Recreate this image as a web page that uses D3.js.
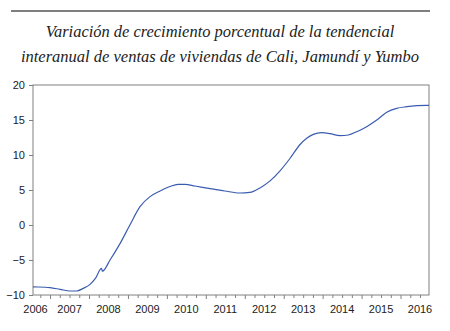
<!DOCTYPE html>
<html>
<head>
<meta charset="utf-8">
<script src="https://cdn.jsdelivr.net/npm/d3@7"></script>
<style>
  html, body { margin: 0; padding: 0; background: #fff; }
  svg { display: block; }
</style>
</head>
<body>
<svg id="chart" width="450" height="331"></svg>
<script>
// ---- data (decimal year, percent) ----
const titleLines = [
  "Variación de crecimiento porcentual de la tendencial",
  "interanual de ventas de viviendas de Cali, Jamundí y Yumbo"
];
const years = [2006.562, 2006.698, 2007.0, 2007.255, 2007.512, 2007.684, 2007.854, 2008.026,
  2008.17, 2008.32, 2008.345, 2008.54, 2008.80, 2009.05, 2009.31, 2009.567, 2009.824,
  2010.08, 2010.286, 2010.465, 2010.72, 2011.11, 2011.49, 2011.88, 2012.13, 2012.39,
  2012.65, 2012.9, 2013.16, 2013.42, 2013.59, 2013.76, 2013.976, 2014.19, 2014.45,
  2014.66, 2014.875, 2015.13, 2015.39, 2015.645, 2015.90, 2016.16, 2016.415, 2016.67, 2016.73];
const values = [-8.85, -8.86, -8.95, -9.19, -9.43, -9.43, -9.05, -8.48,
  -7.6, -6.2, -6.6, -5.0, -2.62, 0.0, 2.62, 4.05, 4.86,
  5.5, 5.8, 5.8, 5.57, 5.2, 4.86, 4.57, 4.65, 5.3,
  6.3, 7.7, 9.5, 11.5, 12.4, 12.95, 13.2, 13.05, 12.76,
  12.86, 13.33, 14.05, 15.0, 16.1, 16.67, 16.9, 17.05, 17.1, 17.1];
const yTicks = [-10, -5, 0, 5, 10, 15, 20];
const yearLabels = [2006, 2007, 2008, 2009, 2010, 2011, 2012, 2013, 2014, 2015, 2016];
const xDomain = [2006.562, 2016.731];
const yDomain = [-10, 20];

// ---- layout ----
const svg = d3.select("#chart");
const L = 33, R = 429, T = 85, B = 295;
const sans = "'Liberation Sans', Arial, sans-serif";

const x = d3.scaleLinear().domain(xDomain).range([L, R]);
const y = d3.scaleLinear().domain(yDomain).range([B, T]);

// top rule
svg.append("line").attr("x1", 11).attr("x2", 430).attr("y1", 11).attr("y2", 11)
  .attr("stroke", "#555").attr("stroke-width", 1.5);

// title
const titleTargets = [349, 398];
const titleY = [37, 62];
titleLines.forEach((t, i) => {
  const tx = svg.append("text")
    .attr("x", 220).attr("y", titleY[i])
    .attr("text-anchor", "middle")
    .attr("font-family", "'Liberation Serif', 'DejaVu Serif', serif")
    .attr("font-style", "italic")
    .attr("font-size", 16)
    .attr("fill", "#222")
    .text(t);
  const w = tx.node().getComputedTextLength();
  tx.attr("font-size", (16 * titleTargets[i] / w).toFixed(2));
});

// y axis
const gy = svg.append("g").attr("transform", `translate(${L},0)`)
  .call(d3.axisLeft(y).tickValues(yTicks).tickSize(4).tickPadding(4).tickFormat(d3.format("d")));
gy.select(".domain").remove();
gy.selectAll(".tick line").attr("stroke", "#808080");
gy.selectAll("text").attr("font-family", sans).attr("font-size", 11).attr("fill", "#222");

// x axis: minor (quarters), major (years), labels (mid-year)
const quarters = [];
for (let yr = 2006; yr <= 2016; yr++) for (let q = 1; q < 4; q++) {
  const v = yr + q / 4;
  if (v > xDomain[0] && v < xDomain[1]) quarters.push(v);
}
const majors = yearLabels.filter(v => v > xDomain[0] && v < xDomain[1]);

const gxm = svg.append("g").attr("transform", `translate(0,${B})`)
  .call(d3.axisBottom(x).tickValues(quarters).tickSize(3).tickFormat(""));
gxm.select(".domain").remove();
gxm.selectAll(".tick line").attr("stroke", "#808080");

const gxM = svg.append("g").attr("transform", `translate(0,${B})`)
  .call(d3.axisBottom(x).tickValues(majors).tickSize(4).tickFormat(""));
gxM.select(".domain").remove();
gxM.selectAll(".tick line").attr("stroke", "#808080");

const gxl = svg.append("g").attr("transform", `translate(0,${B})`)
  .call(d3.axisBottom(x).tickValues(yearLabels.map(v => v + 0.5)).tickSize(0).tickPadding(10)
    .tickFormat(d => String(Math.floor(d))));
gxl.select(".domain").remove();
gxl.selectAll("text").attr("font-family", sans).attr("font-size", 11).attr("fill", "#222");
gxl.selectAll(".tick").attr("transform", d => `translate(${Math.max(x(d), L + 2.5)},0)`);

// frame
svg.append("rect").attr("x", L).attr("y", T).attr("width", R - L).attr("height", B - T)
  .attr("fill", "none").attr("stroke", "#808080").attr("stroke-width", 1);

// line
const pts = years.map((yr, i) => [yr, values[i]]);
svg.append("path").datum(pts)
  .attr("fill", "none").attr("stroke", "#3a5cb0").attr("stroke-width", 1.2)
  .attr("d", d3.line().x(d => x(d[0])).y(d => y(d[1])).curve(d3.curveMonotoneX));
</script>
</body>
</html>
